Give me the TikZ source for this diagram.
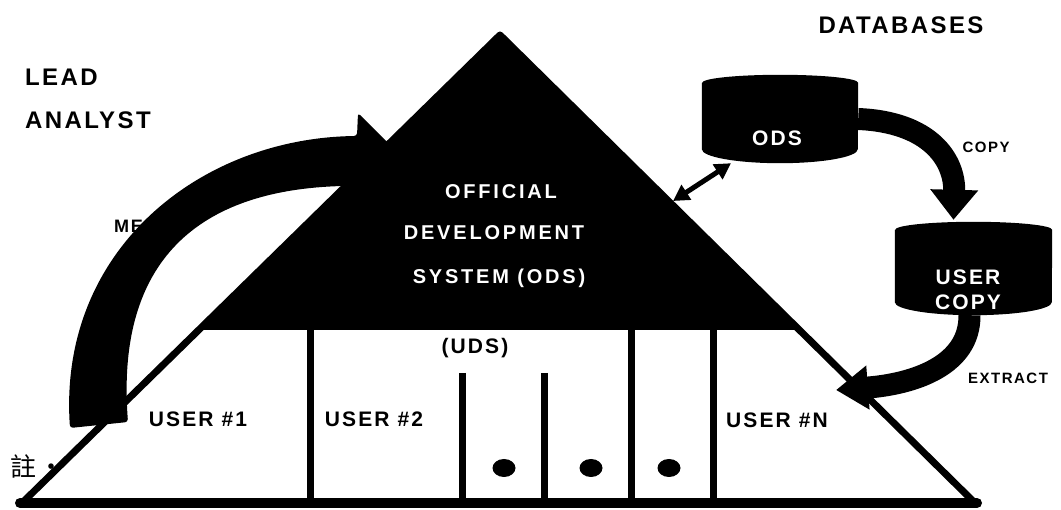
\documentclass[tikz,border=0pt]{standalone}
\usepackage{fontspec}
\setmainfont{Liberation Sans}
\newfontfamily\hv[LetterSpace=10]{Liberation Sans}
\newfontfamily\hvw[LetterSpace=14]{Liberation Sans}
\newfontfamily\cjk{Noto Sans CJK TC}
\usetikzlibrary{arrows.meta}
\tikzset{
  bigtxt/.style={font={\hv\bfseries\fontsize{24}{26}\selectfont}, inner sep=0pt},
  usrtxt/.style={font={\hv\bfseries\fontsize{21}{24}\selectfont}, inner sep=0pt},
  tritxt/.style={font={\hvw\bfseries\fontsize{20}{22}\selectfont}, text=white, inner sep=0pt},
  dbtxt/.style={font={\hv\bfseries\fontsize{21}{22}\selectfont}, text=white, inner sep=0pt},
  smalltxt/.style={font={\hv\bfseries\fontsize{15}{16}\selectfont}, inner sep=0pt},
  midtxt/.style={font={\hv\bfseries\fontsize{18}{20}\selectfont}, inner sep=0pt},
  dbbox/.style={minimum width=156pt, minimum height=88pt, inner sep=0pt},
  fat/.style={line width=22pt},
  wall/.style={line width=7pt},
}
\begin{document}
\begin{tikzpicture}[x=1pt,y=1pt]
\useasboundingbox (0,0) rectangle (1061,-510);
% labels left
\node[bigtxt, anchor=west] (lead) at (25,-77) {LEAD};
\node[bigtxt, anchor=west] (analyst) at (25,-120) {ANALYST};
\node[bigtxt] (dbs) at (901,-25) {DATABASES};
\node[midtxt, anchor=west] (merge) at (114,-226) {MERGE};
% triangle
\coordinate (apex) at (500,-35);
\coordinate (bl) at (22,-503);
\coordinate (br) at (975,-503);
\draw[wall, line join=round, fill=white] (bl) -- (apex) -- (br) -- cycle;
\fill (apex) -- (199,-330) -- (798,-330) -- cycle;
\foreach \x/\t in {310/330, 462/373, 544/373, 631/330, 713/330}
  \draw[wall] (\x,-\t) -- (\x,-503);
\draw[line width=10pt, line cap=round] (20,-503) -- (977,-503);
% merge arrow
\fill[rounded corners=3pt] (70,-428) .. controls (58,-250) and (200,-138) .. (357,-136)
  -- (358,-113) -- (420,-175) -- (343,-186)
  .. controls (210,-190) and (115,-250) .. (128,-422) -- cycle;
% triangle texts
\node[tritxt] (t1) at (501,-192) {OFFICIAL};
\node[tritxt] (t2) at (494,-233) {DEVELOPMENT};
\node[tritxt] (t3) at (499,-278) {SYSTEM (ODS)};
\node[usrtxt] (uds) at (475,-348) {(UDS)};
\node[usrtxt] (u1) at (198,-419) {USER \#1};
\node[usrtxt] (u2) at (374,-419) {USER \#2};
\node[usrtxt] (un) at (777,-420) {USER \#N};
\foreach \x in {504,591,669}
  \fill (\x,-468) ellipse[x radius=11.5pt, y radius=9pt];
\node[font={\cjk\fontsize{26}{28}\selectfont}, anchor=west, inner sep=0pt] (note) at (10,-466) {註\hspace{2pt}·};
% databases
\node[dbbox] (ods) at (780,-119) {};
\fill ([yshift=-8pt]ods.north west) -- ([yshift=14pt]ods.south west)
  arc[start angle=180, end angle=360, x radius=78pt, y radius=14pt]
  -- ([yshift=-8pt]ods.north east)
  arc[start angle=0, end angle=180, x radius=78pt, y radius=8pt] -- cycle;
\node[dbtxt] (odst) at (777,-138) {ODS};
\node[dbbox, minimum width=157pt, minimum height=93pt] (ucopy) at (973.5,-268.5) {};
\fill ([yshift=-8pt]ucopy.north west) -- ([yshift=13pt]ucopy.south west)
  arc[start angle=180, end angle=360, x radius=78.5pt, y radius=13pt]
  -- ([yshift=-8pt]ucopy.north east)
  arc[start angle=0, end angle=180, x radius=78.5pt, y radius=8pt] -- cycle;
\node[dbtxt] (uct1) at (968,-277) {USER};
\node[dbtxt] (uct2) at (968,-302) {COPY};
% arrows
\draw[fat, -{Triangle[length=30pt,width=46pt]}] (ods.east) .. controls (930,-122) and (955,-160) .. ([xshift=-20pt,yshift=2pt]ucopy.north);
\coordinate (ext) at (836,-390);
\draw[fat, -{Triangle[length=32pt,width=42pt]}] ([xshift=-4pt]ucopy.south) .. controls (970,-365) and (915,-384) .. (ext);
\coordinate (tri) at (673,-201);
\draw[line width=5pt, {Triangle[length=16pt,width=17pt]}-{Triangle[length=16pt,width=17pt]}] (tri) -- ([xshift=-49pt]ods.south);
\node[smalltxt] (copyl) at (986,-147) {COPY};
\node[smalltxt] (extl) at (1008,-378) {EXTRACT};
\end{tikzpicture}
\end{document}
